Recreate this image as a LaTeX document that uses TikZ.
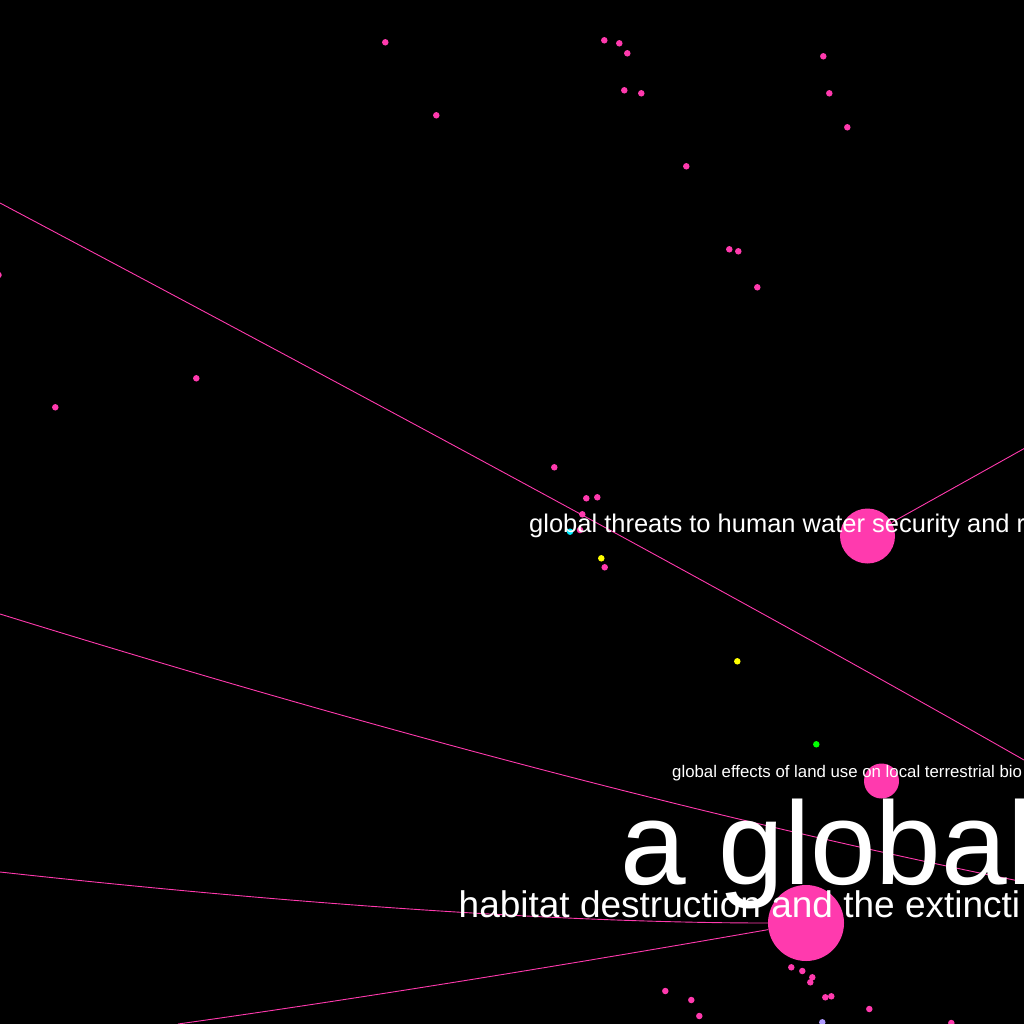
\documentclass[tikz,border=0pt]{standalone}
\usepackage{fontspec}
\setmainfont{Liberation Sans}
\definecolor{hot}{RGB}{255,58,174}
\definecolor{aqua}{RGB}{0,235,255}
\definecolor{lemon}{RGB}{255,255,0}
\definecolor{lime}{RGB}{0,255,0}
\definecolor{lilac}{RGB}{175,155,255}
\usetikzlibrary{positioning}
\pgfdeclarelayer{edges}
\pgfsetlayers{edges,main}
\tikzset{
  hub/.style={circle,fill=hot,inner sep=0pt,minimum size=#1},
  dot/.style={circle,fill=#1,inner sep=0pt,minimum size=6.5pt},
  edge/.style={draw=hot,line width=0.9pt},
  lbl/.style={text=white,anchor=base west,inner sep=0pt},
}

\begin{document}
\begin{tikzpicture}[x=1pt,y=-1pt]
    \useasboundingbox (0,0) rectangle (1024,1024);
    % hubs
    \node[hub=55pt] (water) at (867.5,536) {};
    \node[hub=35pt] (landuse) at (881.5,781) {};
    \node[hub=76pt] (habitat) at (806,923) {};
    % far ends, off the canvas
    \coordinate (a1) at (0,203);
    \coordinate (a2) at (1024,760);
    \coordinate (w2) at (1060,428.5);
    \coordinate (c1) at (0,614);
    \coordinate (c2) at (1024,882);
    \coordinate (h1) at (0,872);
    \coordinate (h2) at (178,1024);
    % edges, under the hubs
    \begin{pgfonlayer}{edges}
    \fill[black] (0,0) rectangle (1024,1024);
    \draw[edge] (a1) .. controls (444.7,438.7) and (786,624.3) .. (a2);
    \draw[edge] (water) -- (w2);
    \draw[edge] (c1) .. controls (383.3,732.7) and (724.7,822) .. (c2);
    \draw[edge] (h1) .. controls (309.3,906) and (578,923) .. (habitat);
    \draw[edge] (h2) .. controls (347.3,1000.3) and (556.7,966.6) .. (habitat);
    \end{pgfonlayer}
    % small papers
    \foreach \x/\y/\c [count=\i] in {
        385.3/42.3/hot, 436.3/115.3/hot, 604.3/40.3/hot, 619.3/43.3/hot,
        627.3/53.3/hot, 624.3/90.3/hot, 641.3/93.3/hot, 686.3/166.3/hot,
        729.3/249.3/hot, 738.3/251.3/hot, 757.3/287.3/hot, 823.3/56.3/hot,
        829.3/93.3/hot, 847.3/127.3/hot, -1.5/275/hot, 196.3/378.3/hot,
        55.3/407.3/hot, 554.3/467.3/hot, 586.3/498.3/hot, 597.3/497.3/hot,
        582.3/514.3/hot, 580/530/hot, 570/531.7/aqua, 601.3/558.3/lemon,
        604.7/567.3/hot, 737.3/661.3/lemon, 816.3/744.3/lime,
        791.3/967.3/hot, 802.3/971/hot, 812.3/977.3/hot, 810.3/982.3/hot,
        665.3/991/hot, 691.3/1000/hot, 699.3/1016/hot, 825.3/997.3/hot,
        831.3/996.3/hot, 869.3/1009/hot, 822.3/1022.3/lilac, 951.3/1023/hot}
      \node[dot=\c] (p\i) at (\x,\y) {};
    % titles
    \node[lbl,font=\fontsize{25.5}{30}\selectfont] (waterlbl) at (529,532)
      {global threats to human water security and r};
    \node[lbl,font=\fontsize{16.8}{20}\selectfont] (landuselbl) at (672,777)
      {global effects of land use on local terrestrial bio};
    \node[lbl,font=\fontsize{118}{130}\selectfont] (bigtitle) at (620,884)
      {a global};
    \node[lbl,font=\fontsize{37}{44}\selectfont] (habitatlbl) at (458.5,917)
      {habitat destruction and the extincti};
\end{tikzpicture}
\end{document}
